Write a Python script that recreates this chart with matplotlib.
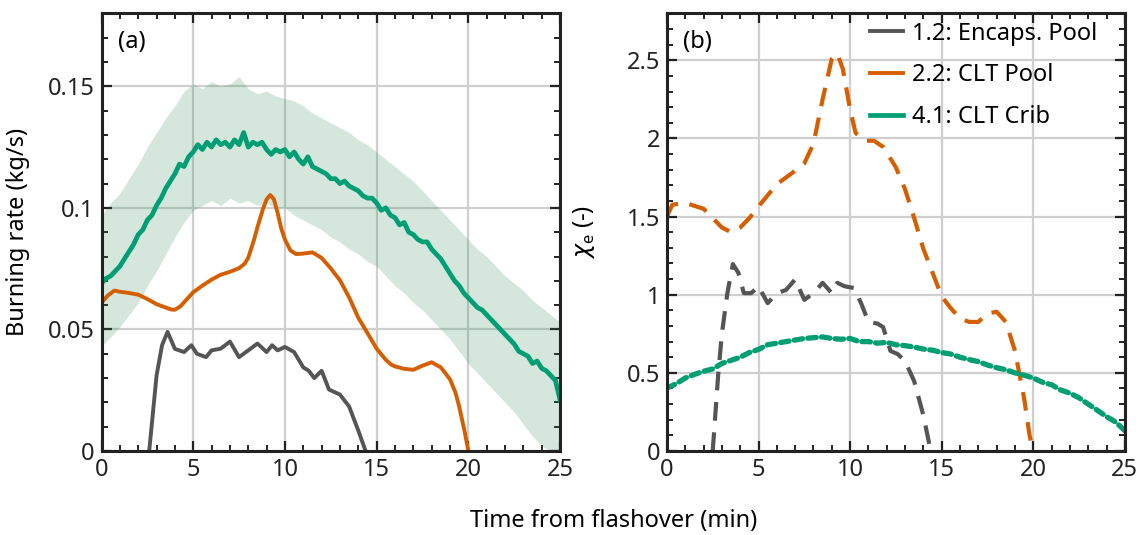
import numpy as np
import matplotlib
matplotlib.use("Agg")
import matplotlib.pyplot as plt
from matplotlib.ticker import MultipleLocator

plt.rcParams['font.family'] = ['Noto Sans', 'DejaVu Sans']
plt.rcParams['font.size'] = 17
plt.rcParams['mathtext.fontset'] = 'dejavusans'

GREY = '#555555'
ORANGE = '#D55E00'
GREEN = '#009E73'

# ---- panel (a): burning rate (kg/s) ----
# 4.1 CLT Crib, mean of repeats, every 0.25 min
crib_t = np.arange(0, 25.01, 0.25)
crib_mean = [0.069, 0.071, 0.072, 0.074, 0.076, 0.079, 0.082, 0.085, 0.089, 0.091,
             0.095, 0.097, 0.101, 0.104, 0.108, 0.111, 0.114, 0.118, 0.117, 0.121,
             0.123, 0.126, 0.124, 0.127, 0.125, 0.128, 0.126, 0.127, 0.125, 0.128,
             0.126, 0.131, 0.125, 0.127, 0.126, 0.127, 0.124, 0.122, 0.124, 0.123,
             0.124, 0.121, 0.123, 0.120, 0.118, 0.121, 0.117, 0.116, 0.115, 0.114,
             0.112, 0.112, 0.110, 0.111, 0.109, 0.108, 0.107, 0.105, 0.104, 0.104,
             0.102, 0.099, 0.100, 0.097, 0.096, 0.093, 0.094, 0.090, 0.089, 0.087,
             0.086, 0.086, 0.083, 0.081, 0.079, 0.076, 0.073, 0.070, 0.068, 0.065,
             0.063, 0.061, 0.059, 0.058, 0.056, 0.054, 0.052, 0.050, 0.048, 0.046,
             0.044, 0.041, 0.040, 0.039, 0.036, 0.037, 0.034, 0.033, 0.031, 0.029,
             0.021]

# spread of the crib repeats, every 0.5 min
band_t = np.arange(0, 25.01, 0.5)
band_hi = [0.097, 0.102, 0.106, 0.112, 0.118, 0.125, 0.131, 0.137, 0.142, 0.148,
           0.151, 0.149, 0.152, 0.150, 0.151, 0.154, 0.149, 0.147, 0.148, 0.146,
           0.145, 0.144, 0.142, 0.139, 0.137, 0.135, 0.133, 0.131, 0.128, 0.126,
           0.123, 0.120, 0.117, 0.114, 0.111, 0.107, 0.103, 0.099, 0.095, 0.091,
           0.087, 0.083, 0.080, 0.076, 0.072, 0.069, 0.066, 0.062, 0.059, 0.056,
           0.053]
band_lo = [0.043, 0.047, 0.051, 0.056, 0.061, 0.068, 0.074, 0.081, 0.088, 0.094,
           0.099, 0.101, 0.103, 0.101, 0.104, 0.102, 0.103, 0.101, 0.102, 0.100,
           0.100, 0.097, 0.095, 0.093, 0.091, 0.088, 0.086, 0.083, 0.081, 0.078,
           0.076, 0.072, 0.068, 0.065, 0.061, 0.058, 0.054, 0.050, 0.046, 0.041,
           0.036, 0.032, 0.028, 0.024, 0.020, 0.016, 0.011, 0.006, 0.002, 0.000,
           0.000]

# 2.2 CLT Pool
pool_t = [0, 0.35, 0.7, 1.0, 1.5, 2.0, 2.5, 3.0, 3.5, 3.8, 4.0, 4.3, 4.6, 5.0, 5.5,
          6.0, 6.5, 7.0, 7.5, 7.8, 8.0, 8.3, 8.5, 8.8, 9.0, 9.2, 9.4, 9.6, 9.8, 10.0,
          10.3, 10.6, 11.0, 11.5, 12.0, 12.5, 13.0, 13.5, 14.0, 14.5, 15.0, 15.5,
          15.8, 16.0, 16.5, 17.0, 17.5, 18.0, 18.5, 19.0, 19.3, 19.5, 19.8, 20.0]
pool_rate = [0.061, 0.064, 0.066, 0.0655, 0.065, 0.0643, 0.0625, 0.0604, 0.059,
             0.0582, 0.0581, 0.0595, 0.062, 0.0653, 0.068, 0.0705, 0.0725, 0.0737,
             0.0752, 0.077, 0.0795, 0.0865, 0.092, 0.0995, 0.1035, 0.1053, 0.1035,
             0.098, 0.0915, 0.087, 0.0825, 0.081, 0.0812, 0.0817, 0.0794, 0.0751,
             0.0702, 0.0632, 0.0548, 0.0485, 0.0421, 0.0375, 0.0355, 0.0348, 0.0338,
             0.0334, 0.0351, 0.0365, 0.0344, 0.0295, 0.024, 0.0183, 0.008, 0.0]

# 1.2 Encapsulated Pool
enc_t = [2.6, 3.0, 3.3, 3.6, 4.0, 4.5, 4.9, 5.2, 5.7, 6.0, 6.5, 7.0, 7.5, 8.0, 8.5,
         9.0, 9.3, 9.6, 10.0, 10.5, 11.0, 11.3, 11.6, 12.0, 12.4, 13.0, 13.5, 14.0,
         14.4]
enc_rate = [0.0, 0.031, 0.0435, 0.049, 0.042, 0.0407, 0.0435, 0.040, 0.0386, 0.0414,
            0.0421, 0.045, 0.0386, 0.0414, 0.0442, 0.0407, 0.0435, 0.0414, 0.0428,
            0.0407, 0.0344, 0.033, 0.030, 0.033, 0.0253, 0.0232, 0.0183, 0.0084, 0.0]

# ---- panel (b): chi_e (-) ----
chi_pool_t = [0, 0.3, 1.0, 2.0, 2.5, 3.0, 3.5, 4.0, 4.5, 5.0, 6.0, 7.0, 7.5, 8.0, 8.5,
              9.0, 9.3, 9.6, 10.0, 10.3, 10.8, 11.3, 11.8, 12.5, 13.0, 13.5, 14.0,
              14.5, 15.0, 15.5, 16.0, 16.5, 17.0, 17.5, 18.0, 18.5, 19.0, 19.5, 19.8,
              20.0]
chi_pool = [1.50, 1.576, 1.587, 1.55, 1.49, 1.43, 1.40, 1.43, 1.49, 1.565, 1.707,
            1.793, 1.84, 1.967, 2.25, 2.51, 2.543, 2.446, 2.185, 2.035, 1.985, 1.985,
            1.946, 1.815, 1.674, 1.49, 1.293, 1.141, 0.989, 0.913, 0.848, 0.826,
            0.826, 0.88, 0.891, 0.826, 0.641, 0.337, 0.098, 0.0]

chi_enc_t = [2.5, 2.8, 3.0, 3.3, 3.6, 3.9, 4.2, 4.6, 5.0, 5.5, 6.0, 6.5, 7.0, 7.5, 8.0,
             8.5, 9.0, 9.3, 9.7, 10.2, 10.6, 11.0, 11.5, 11.8, 12.2, 12.6, 13.0, 13.5,
             14.0, 14.4]
chi_enc = [0.0, 0.49, 0.75, 1.01, 1.196, 1.14, 1.01, 1.01, 1.054, 0.946, 1.01, 1.03,
           1.098, 0.967, 1.01, 1.076, 1.01, 1.076, 1.054, 1.043, 0.946, 0.826, 0.815,
           0.793, 0.641, 0.62, 0.576, 0.446, 0.228, 0.0]

chi_crib_t = np.arange(0, 25.01, 0.5)
chi_crib = [0.402, 0.43, 0.467, 0.49, 0.51, 0.525, 0.56, 0.58, 0.60, 0.63, 0.65,
            0.68, 0.69, 0.70, 0.71, 0.72, 0.725, 0.73, 0.72, 0.715, 0.72, 0.70, 0.70,
            0.69, 0.695, 0.68, 0.674, 0.665, 0.652, 0.645, 0.63, 0.62, 0.60, 0.585,
            0.572, 0.55, 0.533, 0.52, 0.50, 0.485, 0.467, 0.44, 0.424, 0.39, 0.37,
            0.34, 0.30, 0.26, 0.22, 0.185, 0.13]

labels = ['1.2: Encaps. Pool', '2.2: CLT Pool', '4.1: CLT Crib']


def style_axes(ax):
    ax.set_xlim(0, 25)
    ax.xaxis.set_major_locator(MultipleLocator(5))
    ax.xaxis.set_minor_locator(MultipleLocator(1))
    ax.tick_params(which='both', direction='in', top=True, right=True,
                   colors='#222222', labelcolor='#222222')
    ax.tick_params(which='major', length=7, width=1.6, pad=5)
    ax.tick_params(which='minor', length=4, width=1.4)
    ax.grid(True, which='major', color='#cfcfcf', lw=1.6)
    ax.set_axisbelow(True)
    for s in ax.spines.values():
        s.set_linewidth(2.2)
        s.set_color('#222222')


fig = plt.figure(figsize=(11.42, 5.35), dpi=100)
ax1 = fig.add_axes([0.0889, 0.157, 0.4015, 0.818])
ax2 = fig.add_axes([0.584, 0.157, 0.401, 0.818])

# (a)
ax1.fill_between(band_t, band_lo, band_hi, color='#2e8b57', alpha=0.2, lw=0)
h1, = ax1.plot(enc_t, enc_rate, color=GREY, lw=2.8)
h2, = ax1.plot(pool_t, pool_rate, color=ORANGE, lw=2.8)
h3, = ax1.plot(crib_t, crib_mean, color=GREEN, lw=3.4)
style_axes(ax1)
ax1.set_ylim(0, 0.18)
ax1.yaxis.set_major_locator(MultipleLocator(0.05))
ax1.yaxis.set_minor_locator(MultipleLocator(0.01))
ax1.set_yticks([0, 0.05, 0.1, 0.15], ['0', '0.05', '0.1', '0.15'])
ax1.set_ylabel('Burning rate (kg/s)')
ax1.yaxis.set_label_coords(-0.156, 0.5)
ax1.text(0.035, 0.935, '(a)', transform=ax1.transAxes, va='center')

# (b)
ax2.plot(chi_enc_t, chi_enc, color=GREY, lw=3, dashes=(4.5, 2.8))
ax2.plot(chi_pool_t, chi_pool, color=ORANGE, lw=3, dashes=(4.5, 2.8))
ax2.plot(chi_crib_t, chi_crib, color=GREEN, lw=3.8, dashes=(1.6, 1.0),
         dash_capstyle='round')
style_axes(ax2)
ax2.set_ylim(0, 2.8)
ax2.yaxis.set_major_locator(MultipleLocator(0.5))
ax2.yaxis.set_minor_locator(MultipleLocator(0.1))
ax2.set_yticks([0, 0.5, 1, 1.5, 2, 2.5], ['0', '0.5', '1', '1.5', '2', '2.5'])
ax2.set_ylabel(r'$\chi_\mathregular{e}$ (-)')
ax2.yaxis.set_label_coords(-0.153, 0.5)
ax2.text(0.035, 0.935, '(b)', transform=ax2.transAxes, va='center')
ax2.legend([h1, h2, h3], labels, loc='upper right', bbox_to_anchor=(0.958, 1.0),
           frameon=False, handlelength=1.4, handletextpad=0.4, labelspacing=0.75,
           borderaxespad=0.05, borderpad=0.3)

fig.text(0.537, 0.026, 'Time from flashover (min)', ha='center', va='center')

fig.savefig('out.png', dpi=100)
